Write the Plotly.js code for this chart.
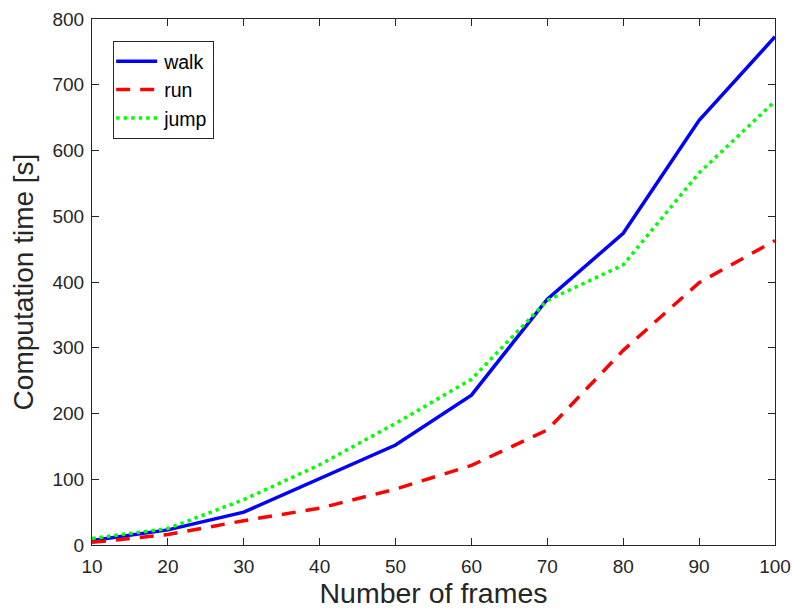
<!DOCTYPE html>
<html>
<head>
<meta charset="utf-8">
<script src="https://cdn.plot.ly/plotly-3.0.1.min.js"></script>
<style>html,body{margin:0;padding:0;background:#fff;}#chart{width:792px;height:610px;}</style>
</head>
<body>
<div id="chart"></div>
<script>
const frames = [10, 20, 30, 40, 50, 60, 70, 80, 90, 100];
const walk = [7, 23, 50, 101, 152, 228, 374, 474, 646, 773];
const run = [4, 16, 37, 56, 85, 121, 175, 296, 399, 463];
const jump = [10, 25, 69, 122, 185, 252, 372, 426, 566, 675];
const xTicks = [10, 20, 30, 40, 50, 60, 70, 80, 90, 100];
const yTicks = [0, 100, 200, 300, 400, 500, 600, 700, 800];

const FONT = 'Liberation Sans, Arial, sans-serif';

const traces = [
  {x: frames, y: walk, name: 'walk', mode: 'lines', line: {color: '#0000ff', width: 3.5}},
  {x: frames, y: run, name: 'run', mode: 'lines', line: {color: '#ff0000', width: 3.5, dash: '14px,10px'}},
  {x: frames, y: jump, name: 'jump', mode: 'lines', line: {color: '#00ff00', width: 3.5, dash: '3.5px,4px'}}
];

const axisCommon = {
  showline: true, linecolor: '#262626', linewidth: 1, mirror: 'ticks',
  ticks: 'inside', ticklen: 7, tickcolor: '#262626', tickwidth: 1,
  showgrid: false, zeroline: false,
  tickfont: {family: FONT, size: 19, color: '#262626'}
};

const layout = {
  width: 792, height: 610,
  margin: {l: 92, r: 17, t: 19, b: 65},
  paper_bgcolor: '#fff', plot_bgcolor: '#fff',
  showlegend: true,
  xaxis: Object.assign({}, axisCommon, {
    range: [10, 100], tickvals: xTicks, ticktext: xTicks.map(String),
    ticklabelstandoff: 4,
    title: {text: 'Number of frames', font: {family: FONT, size: 28.5, color: '#262626'}, standoff: 5}
  }),
  yaxis: Object.assign({}, axisCommon, {
    range: [0, 800], tickvals: yTicks, ticktext: yTicks.map(String),
    ticklabelstandoff: 3,
    title: {text: 'Computation time [s]', font: {family: FONT, size: 28, color: '#262626'}, standoff: 10}
  }),
  legend: {
    x: 0.031, y: 0.958, xanchor: 'left', yanchor: 'top',
    bgcolor: '#fff', bordercolor: '#262626', borderwidth: 1,
    font: {family: FONT, size: 19.5, color: '#000'},
    tracegroupgap: 0, itemwidth: 40
  }
};

Plotly.newPlot('chart', traces, layout, {displayModeBar: false, staticPlot: true}).then(function () {
  document.querySelectorAll('#chart .legend .legendlines path').forEach(function (p) {
    p.setAttribute('d', 'M2,0h41');
  });
});
</script>
</body>
</html>
